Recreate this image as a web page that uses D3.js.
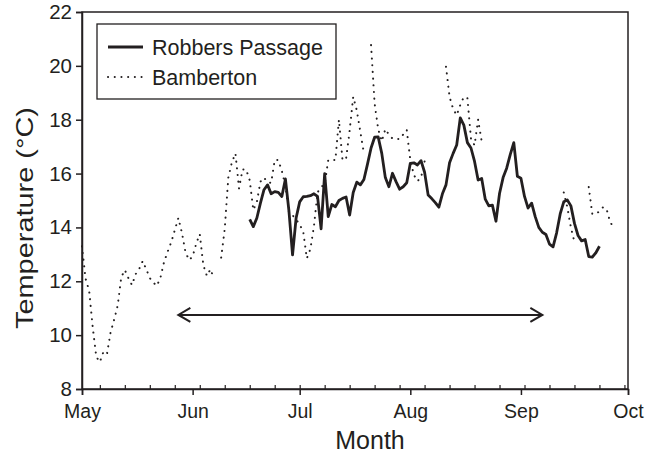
<!DOCTYPE html>
<html><head><meta charset="utf-8">
<script src="https://cdn.jsdelivr.net/npm/d3@7"></script>
<style>
body{margin:0;background:#fff}
svg{display:block}
text{font-family:"Liberation Sans",Arial,Helvetica,sans-serif;fill:#231f20}
</style>
</head><body>
<svg id="chart" width="657" height="460"></svg>
<script>
// ---------- data ----------
const monthLabels = ["May", "Jun", "Jul", "Aug", "Sep", "Oct"];
const monthDates = ["2008-05-01", "2008-06-01", "2008-07-01", "2008-08-01", "2008-09-01", "2008-10-01"];
const yTickValues = [8, 10, 12, 14, 16, 18, 20, 22];
const seriesNames = ["Robbers Passage", "Bamberton"];
const xTitle = "Month";
const yTitle = "Temperature (°C)";

// Bamberton daily mean temperature from 1 May (null = no data)
const bambertonStart = "2008-05-01";
const bambertonTemps = [
  13.3, 12.1, 11.65, 10.3, 9.2, 9.0, 9.38, 9.3, 10.1, 10.57,
  11.1, 12.15, 12.42, 12.12, 11.86, 12.26, 12.45, 12.75, 12.45, 12.12,
  11.95, 11.83, 12.15, 12.72, 13.1, 13.45, 13.9, 14.35, 13.8, 13.08,
  12.79, 12.92, 13.4, 13.75, 12.6, 12.2, 12.45, 12.08, null, 12.88,
  13.95, 15.85, 16.42, 16.75, 15.45, 16.15, 16.15, 15.75, 14.65, 14.95,
  15.7, 15.85, 15.68, 15.65, 16.5, 16.5, 16.1, 15.55, 14.55, 14.45,
  14.3, 14.1, 13.85, 12.85, 13.2, 14.05, 15.3, 15.5, 15.6, 16.5,
  16.5, 16.5, 18.0, 16.5, 16.55, 17.6, 18.85, 18.35, 17.55, 16.75,
  null, 20.77, 18.6, 17.65, 17.2, 17.65, 17.45, 17.3, 17.28, 17.28,
  17.45, 17.62, 16.5, 15.95, 15.72, 15.85, 16.45, null, null, null,
  null, null, 19.97, 18.85, 18.4, 18.17, 18.55, 18.85, 18.8, 17.3,
  17.05, 18.0, 17.2, null, null, null, null, null, null, null,
  null, null, null, null, null, null, null, null, null, null,
  null, null, null, null, null, 15.3, 14.75, 14.0, 13.45, null,
  null, null, 15.5, 14.5, 14.5, 14.6, 14.75, 14.68, 14.2, 14.0
];

// Robbers Passage daily mean temperature from 17 June
const robbersStart = "2008-06-17";
const robbersTemps = [
  14.3, 14.03, 14.35, 14.9, 15.4, 15.58, 15.25, 15.33, 15.3, 15.15,
  15.8, 14.6, 12.98, 14.35, 14.95, 15.14, 15.15, 15.18, 15.25, 15.15,
  13.95, 16.0, 14.4, 14.85, 14.77, 15.0, 15.08, 15.13, 14.46, 15.3,
  15.68, 15.58, 15.78, 16.35, 16.95, 17.35, 17.36, 16.75, 15.85, 15.51,
  16.01, 15.7, 15.42, 15.51, 15.66, 16.38, 16.4, 16.32, 16.48, 16.05,
  15.2, 15.07, 14.92, 14.75, 15.25, 15.58, 16.4, 16.75, 17.06, 18.07,
  17.8, 17.15, 16.95, 16.45, 15.76, 15.82, 15.05, 14.8, 14.83, 14.23,
  15.26, 15.85, 16.2, 16.7, 17.15, 15.9, 15.83, 15.15, 14.72, 14.9,
  14.4, 14.0, 13.82, 13.74, 13.38, 13.28, 13.8, 14.5, 14.95, 15.02,
  14.8, 14.15, 13.7, 13.5, 13.55, 12.92, 12.9, 13.06, 13.3
];

// study period arrow
const arrowDates = ["2008-05-28", "2008-09-07"];
const arrowTemp = 10.75;

// ---------- chart ----------
const W = 657, H = 460;
const M = {left: 82, top: 12, right: 29, bottom: 71};
const ink = "#231f20";
const parse = d3.timeParse("%Y-%m-%d");

const svg = d3.select("#chart");
svg.append("rect").attr("width", W).attr("height", H).attr("fill", "#fff");

const x = d3.scaleTime()
  .domain([parse(monthDates[0]), parse(monthDates[monthDates.length - 1])])
  .range([M.left, W - M.right]);
const y = d3.scaleLinear().domain([8, 22]).range([H - M.bottom, M.top]);

function toSeries(start, temps) {
  const s = parse(start);
  return temps.map((v, i) => ({date: d3.timeDay.offset(s, i), v}));
}
const bamberton = toSeries(bambertonStart, bambertonTemps);
const robbers = toSeries(robbersStart, robbersTemps);

const line = d3.line()
  .defined(d => d.v != null)
  .x(d => x(d.date))
  .y(d => y(d.v));

// frame
svg.append("rect")
  .attr("x", M.left).attr("y", M.top)
  .attr("width", W - M.right - M.left).attr("height", H - M.bottom - M.top)
  .attr("fill", "none").attr("stroke", ink).attr("stroke-width", 1.5);

// y axis
const yAxis = svg.append("g")
  .attr("transform", `translate(${M.left},0)`)
  .call(d3.axisLeft(y).tickValues(yTickValues).tickSize(6).tickPadding(4).tickFormat(d3.format("d")));
yAxis.select(".domain").attr("stroke", ink).attr("stroke-width", 1.5);
yAxis.selectAll(".tick line").attr("stroke", ink).attr("stroke-width", 1.5);
yAxis.selectAll(".tick text").attr("font-size", 20.5).attr("fill", ink)
  .attr("font-family", '"Liberation Sans",Arial,sans-serif');

// x axis: major (month) ticks
const monthD = monthDates.map(parse);
const xAxis = svg.append("g")
  .attr("transform", `translate(0,${H - M.bottom})`)
  .call(d3.axisBottom(x).tickValues(monthD).tickSize(6).tickPadding(9)
    .tickFormat((d, i) => monthLabels[i]));
xAxis.select(".domain").attr("stroke", ink).attr("stroke-width", 1.5);
xAxis.selectAll(".tick line").attr("stroke", ink).attr("stroke-width", 1.5);
xAxis.selectAll(".tick text").attr("font-size", 19.5).attr("fill", ink)
  .attr("font-family", '"Liberation Sans",Arial,sans-serif');

// x axis: weekly minor ticks (inside)
const minorD = d3.timeDay.range(d3.timeDay.offset(monthD[0], 5), monthD[monthD.length - 1], 7);
const xMinor = svg.append("g")
  .attr("transform", `translate(0,${H - M.bottom})`)
  .call(d3.axisTop(x).tickValues(minorD).tickSize(4).tickFormat(""));
xMinor.select(".domain").remove();
xMinor.selectAll(".tick line").attr("stroke", ink).attr("stroke-width", 1.2);

// axis titles
svg.append("text")
  .attr("x", 370).attr("y", 449)
  .attr("text-anchor", "middle").attr("font-size", 25).text(xTitle);
svg.append("text")
  .attr("transform", `translate(33,218) rotate(-90)`)
  .attr("text-anchor", "middle").attr("font-size", 24)
  .attr("textLength", 222).attr("lengthAdjust", "spacingAndGlyphs").text(yTitle);

// series
svg.append("path").datum(bamberton)
  .attr("d", line).attr("fill", "none").attr("stroke", ink)
  .attr("stroke-width", 2).attr("stroke-linecap", "round")
  .attr("stroke-dasharray", "0.1,6.6");
svg.append("path").datum(robbers)
  .attr("d", line).attr("fill", "none").attr("stroke", ink)
  .attr("stroke-width", 2.8).attr("stroke-linejoin", "round");

// arrow
const ax0 = x(parse(arrowDates[0])), ax1 = x(parse(arrowDates[1])), ay = y(arrowTemp);
const ag = svg.append("g").attr("stroke", ink).attr("stroke-width", 2).attr("fill", "none");
ag.append("line").attr("x1", ax0).attr("x2", ax1).attr("y1", ay).attr("y2", ay);
ag.append("path").attr("d", `M${ax0 + 12},${ay - 7}L${ax0},${ay}L${ax0 + 12},${ay + 7}`);
ag.append("path").attr("d", `M${ax1 - 12},${ay - 7}L${ax1},${ay}L${ax1 - 12},${ay + 7}`);

// legend
const lg = svg.append("g");
lg.append("rect").attr("x", 97).attr("y", 24).attr("width", 239).attr("height", 75)
  .attr("fill", "#fff").attr("stroke", ink).attr("stroke-width", 1.3);
const rows = [{name: seriesNames[0], dash: null, w: 2.8}, {name: seriesNames[1], dash: "0.1,6.6", w: 2}];
rows.forEach((r, i) => {
  const ly = 47 + i * 30;
  lg.append("line").attr("x1", 108).attr("x2", 143).attr("y1", ly).attr("y2", ly)
    .attr("stroke", ink).attr("stroke-width", r.w)
    .attr("stroke-linecap", r.dash ? "round" : "butt")
    .attr("stroke-dasharray", r.dash);
  lg.append("text").attr("x", 152).attr("y", ly + 7.5).attr("font-size", 21.5).text(r.name);
});
</script>
</body></html>
